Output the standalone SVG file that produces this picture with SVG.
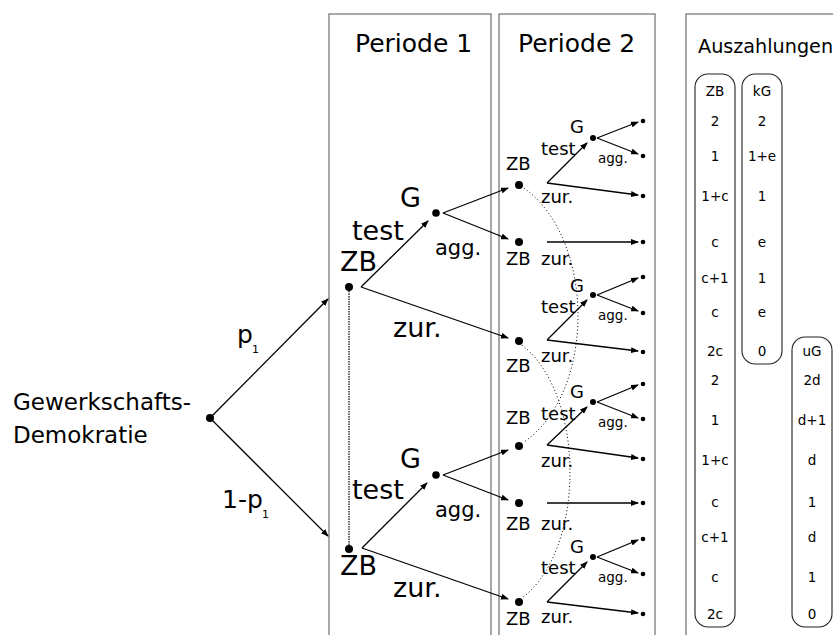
<svg xmlns="http://www.w3.org/2000/svg" width="833" height="635" viewBox="0 0 833 635">
<style>
text{font-family:"DejaVu Sans",sans-serif;fill:#000}
.box{fill:none;stroke:#7a7a7a;stroke-width:1.3}
.col{fill:none;stroke:#222;stroke-width:1.1}
.a{stroke:#000;stroke-width:1.3;fill:none;marker-end:url(#ah)}
.dot{stroke:#000;stroke-width:1;fill:none;stroke-dasharray:1 2.5}
.vd{stroke:#000;stroke-width:1.2;fill:none;stroke-dasharray:1.5 1}
.h{font-size:25px}
.l1{font-size:27px}
.ag1{font-size:21px}
.l2{font-size:18px}
.ag2{font-size:13.5px}
.pv{font-size:13.5px;text-anchor:middle}
</style>
<defs>
<marker id="ah" markerUnits="userSpaceOnUse" markerWidth="8" markerHeight="6" refX="7" refY="3" orient="auto">
<path d="M0,0 L8,3 L0,6 z" fill="#000"/>
</marker>
</defs>
<rect width="833" height="635" fill="#fff"/>

<g id="period1">
<rect class="box" x="329" y="14" width="162" height="640"/>
<text class="h" x="355" y="52">Periode 1</text>
</g>
<g id="period2">
<rect class="box" x="499" y="14" width="156" height="640"/>
<text class="h" x="518" y="52">Periode 2</text>
</g>
<g id="auszahlungen">
<rect class="box" x="686" y="14" width="160" height="640"/>
<text x="698" y="53" style="font-size:19.2px">Auszahlungen</text>
</g>

<g id="connectors">
<line class="a" x1="210" y1="418" x2="328" y2="299"/>
<line class="a" x1="210" y1="418" x2="328" y2="536"/>
<line class="vd" x1="349" y1="291" x2="349" y2="545"/>
<line class="a" x1="361" y1="287" x2="428" y2="221"/>
<line class="a" x1="361" y1="287" x2="508" y2="338"/>
<line class="a" x1="443" y1="213" x2="508" y2="188"/>
<line class="a" x1="443" y1="213" x2="508" y2="239"/>
<line class="a" x1="362" y1="548" x2="427" y2="483"/>
<line class="a" x1="362" y1="548" x2="508" y2="599"/>
<line class="a" x1="443" y1="475" x2="508" y2="450"/>
<line class="a" x1="443" y1="475" x2="508" y2="500"/>
<path class="dot" d="M524,188 C596,240 596,392 524,442"/>
<path class="dot" d="M522,345 C586,395 586,550 522,598"/>
<line class="a" x1="547" y1="183" x2="587" y2="143"/>
<line class="a" x1="547" y1="183" x2="638" y2="195"/>
<line class="a" x1="597" y1="138" x2="638" y2="122"/>
<line class="a" x1="597" y1="138" x2="638" y2="154"/>
<line class="a" x1="547" y1="242" x2="638" y2="242"/>
<line class="a" x1="547" y1="340" x2="587" y2="300"/>
<line class="a" x1="547" y1="340" x2="638" y2="351"/>
<line class="a" x1="597" y1="295" x2="638" y2="278"/>
<line class="a" x1="597" y1="295" x2="638" y2="311"/>
<line class="a" x1="547" y1="445" x2="587" y2="407"/>
<line class="a" x1="547" y1="445" x2="638" y2="458"/>
<line class="a" x1="597" y1="402" x2="638" y2="385"/>
<line class="a" x1="597" y1="402" x2="638" y2="418"/>
<line class="a" x1="547" y1="503" x2="638" y2="503"/>
<line class="a" x1="547" y1="602" x2="587" y2="562"/>
<line class="a" x1="547" y1="602" x2="638" y2="613"/>
<line class="a" x1="597" y1="557" x2="638" y2="540"/>
<line class="a" x1="597" y1="557" x2="638" y2="573"/>
</g>

<g id="root">
<circle cx="210" cy="418" r="4"/>
<text x="13" y="410" style="font-size:23px">Gewerkschafts-</text>
<text x="13" y="443" style="font-size:23px">Demokratie</text>
<text x="237" y="343" style="font-size:25px">p</text>
<text x="252" y="353" style="font-size:11px">1</text>
<text x="222" y="508" style="font-size:25px">1-p</text>
<text x="262" y="518" style="font-size:11px">1</text>
</g>

<g id="p1-zb-top">
<circle cx="349" cy="287" r="4"/>
<text class="l1" x="340" y="271">ZB</text>
<text class="l1" x="352" y="240">test</text>
<text class="l1" x="393" y="337">zur.</text>
</g>
<g id="p1-g-top">
<circle cx="436" cy="213" r="3.8"/>
<text class="l1" x="400" y="207">G</text>
<text class="ag1" x="435" y="255">agg.</text>
</g>
<g id="p1-zb-bot">
<circle cx="349" cy="549" r="4"/>
<text class="l1" x="340" y="575">ZB</text>
<text class="l1" x="352" y="499">test</text>
<text class="l1" x="393" y="597">zur.</text>
</g>
<g id="p1-g-bot">
<circle cx="436" cy="475" r="3.8"/>
<text class="l1" x="400" y="468">G</text>
<text class="ag1" x="435" y="517">agg.</text>
</g>

<g id="p2-zb1">
<circle cx="519" cy="185" r="4"/>
<text class="l2" x="506" y="170">ZB</text>
<text class="l2" x="541" y="155">test</text>
<text class="l2" x="541" y="203">zur.</text>
<circle cx="593" cy="138" r="3"/>
<text class="l2" x="570" y="133">G</text>
<text class="ag2" x="598" y="163">agg.</text>
<circle cx="643" cy="121" r="2.3"/>
<circle cx="643" cy="156" r="2.3"/>
<circle cx="643" cy="196" r="2.3"/>
</g>
<g id="p2-zb2">
<circle cx="519" cy="242" r="4"/>
<text class="l2" x="506" y="265">ZB</text>
<text class="l2" x="541" y="265">zur.</text>
<circle cx="643" cy="242" r="2.3"/>
</g>
<g id="p2-zb3">
<circle cx="519" cy="341" r="4"/>
<text class="l2" x="506" y="372">ZB</text>
<text class="l2" x="541" y="313">test</text>
<text class="l2" x="541" y="362">zur.</text>
<circle cx="593" cy="295" r="3"/>
<text class="l2" x="570" y="292">G</text>
<text class="ag2" x="598" y="320">agg.</text>
<circle cx="643" cy="277" r="2.3"/>
<circle cx="643" cy="313" r="2.3"/>
<circle cx="643" cy="352" r="2.3"/>
</g>
<g id="p2-zb4">
<circle cx="519" cy="446" r="4"/>
<text class="l2" x="506" y="424">ZB</text>
<text class="l2" x="541" y="420">test</text>
<text class="l2" x="541" y="467">zur.</text>
<circle cx="593" cy="402" r="3"/>
<text class="l2" x="570" y="398">G</text>
<text class="ag2" x="598" y="427">agg.</text>
<circle cx="643" cy="384" r="2.3"/>
<circle cx="643" cy="419" r="2.3"/>
<circle cx="643" cy="459" r="2.3"/>
</g>
<g id="p2-zb5">
<circle cx="519" cy="503" r="4"/>
<text class="l2" x="506" y="530">ZB</text>
<text class="l2" x="541" y="530">zur.</text>
<circle cx="643" cy="503" r="2.3"/>
</g>
<g id="p2-zb6">
<circle cx="519" cy="602" r="4"/>
<text class="l2" x="506" y="625">ZB</text>
<text class="l2" x="541" y="574">test</text>
<text class="l2" x="541" y="623">zur.</text>
<circle cx="593" cy="557" r="3"/>
<text class="l2" x="570" y="553">G</text>
<text class="ag2" x="598" y="582">agg.</text>
<circle cx="643" cy="539" r="2.3"/>
<circle cx="643" cy="574" r="2.3"/>
<circle cx="643" cy="614" r="2.3"/>
</g>

<g id="col-zb">
<rect class="col" x="695" y="74" width="40" height="553" rx="13"/>
<text class="pv" x="715" y="96">ZB</text>
<text class="pv" x="715" y="126">2</text>
<text class="pv" x="715" y="161">1</text>
<text class="pv" x="715" y="201">1+c</text>
<text class="pv" x="715" y="247">c</text>
<text class="pv" x="715" y="283">c+1</text>
<text class="pv" x="715" y="317">c</text>
<text class="pv" x="715" y="356">2c</text>
<text class="pv" x="715" y="385">2</text>
<text class="pv" x="715" y="425">1</text>
<text class="pv" x="715" y="465">1+c</text>
<text class="pv" x="715" y="507">c</text>
<text class="pv" x="715" y="542">c+1</text>
<text class="pv" x="715" y="582">c</text>
<text class="pv" x="715" y="619">2c</text>
</g>
<g id="col-kg">
<rect class="col" x="742" y="74" width="40" height="290" rx="13"/>
<text class="pv" x="762" y="96">kG</text>
<text class="pv" x="762" y="126">2</text>
<text class="pv" x="762" y="161">1+e</text>
<text class="pv" x="762" y="201">1</text>
<text class="pv" x="762" y="247">e</text>
<text class="pv" x="762" y="283">1</text>
<text class="pv" x="762" y="317">e</text>
<text class="pv" x="762" y="356">0</text>
</g>
<g id="col-ug">
<rect class="col" x="792" y="337" width="40" height="290" rx="13"/>
<text class="pv" x="812" y="356">uG</text>
<text class="pv" x="812" y="385">2d</text>
<text class="pv" x="812" y="425">d+1</text>
<text class="pv" x="812" y="465">d</text>
<text class="pv" x="812" y="507">1</text>
<text class="pv" x="812" y="542">d</text>
<text class="pv" x="812" y="582">1</text>
<text class="pv" x="812" y="619">0</text>
</g>
</svg>
